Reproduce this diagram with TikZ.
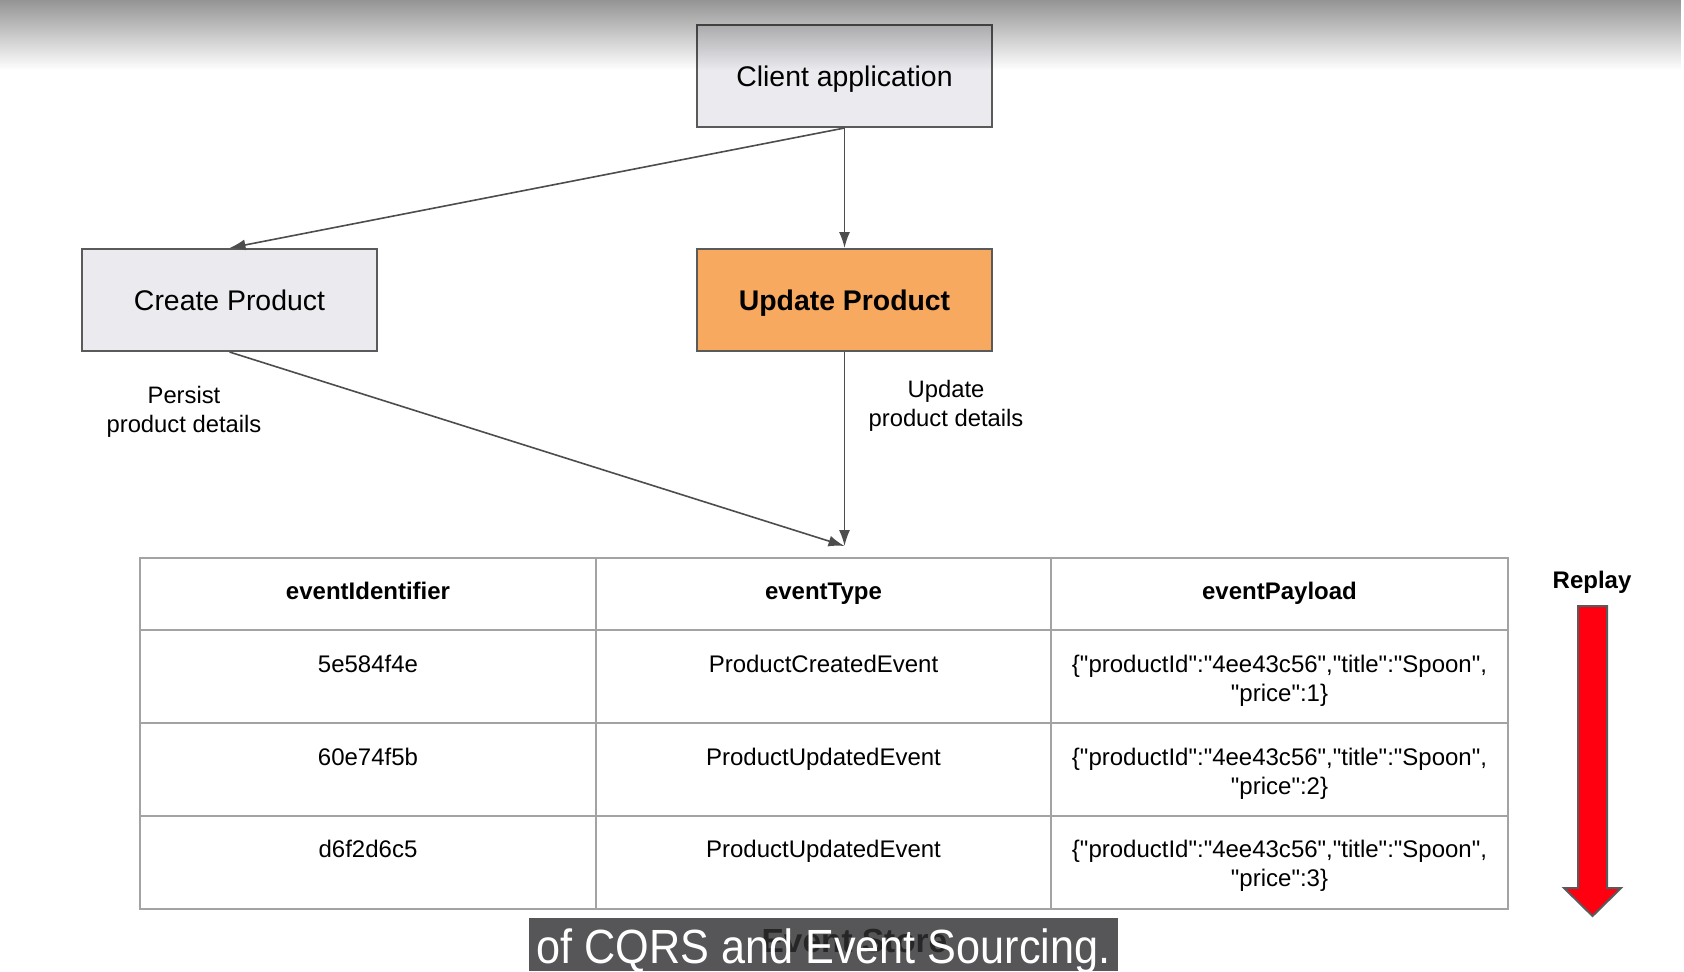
\documentclass[tikz,border=0pt]{standalone}
\usepackage{fontspec}
\setmainfont{Liberation Sans}[Ligatures=TeXOff]
\newfontfamily\capfont[FakeStretch=0.9]{Liberation Sans}
\usetikzlibrary{positioning,arrows.meta,fadings}
\definecolor{boxgray}{HTML}{EBEAEE}
\definecolor{boxline}{HTML}{5A5A5A}
\definecolor{updorange}{HTML}{F6A95F}
\definecolor{arrowgray}{HTML}{4D4D4D}
\definecolor{gridgray}{HTML}{A3A3A3}
\definecolor{replayred}{HTML}{FF0010}
\definecolor{capgray}{HTML}{565658}
\tikzset{
  procbox/.style={draw=boxline, line width=1pt, fill=boxgray, minimum width=147.5pt,
    minimum height=51pt, inner sep=0pt, text depth=0pt, font=\fontsize{14.2}{17}\selectfont},
  flow/.style={draw=arrowgray, line width=0.8pt, -{Latex[length=8pt,width=5.5pt]}},
  note/.style={align=center, font=\fontsize{11.9}{14.5}\selectfont},
  headcell/.style={font=\bfseries\fontsize{12}{14.5}\selectfont, text depth=0pt},
  datacell/.style={font=\fontsize{12}{14.5}\selectfont, text depth=0pt},
  paycell/.style={align=center, font=\fontsize{12}{14.5}\selectfont},
  tablegrid/.style={draw=gridgray, line width=1pt}
}
\begin{document}
\begin{tikzpicture}[x=0.5pt,y=-0.5pt]
\fill[white] (0,0) rectangle (1684,971);
\useasboundingbox (0,0) rectangle (1684,971);
% boxes
\node[procbox] (client) at (844.5,76) {Client application};
\node[procbox, fill=updorange, font=\bfseries\fontsize{14.2}{17}\selectfont, below=60pt of client] (update) {Update Product};
\node[procbox, left=159pt of update] (create) {Create Product};
\node[note] (persist) at (184,412) {Persist\\product details};
\node[note] (updnote) at (946,406) {Update\\product details};
\coordinate (store) at (844.5,546);
% connectors
\draw[flow] (client.south) -- (create.north);
\draw[flow] (client.south) -- (update.north);
\draw[flow] (create.south) -- (store);
\draw[flow] (update.south) -- (store);
% event store table
\draw[tablegrid] (140,558) rectangle (1508,909);
\foreach \x in {596,1051} \draw[tablegrid] (\x,558) -- (\x,909);
\foreach \y in {630,723,816} \draw[tablegrid] (140,\y) -- (1508,\y);
\node[headcell] (hid) at (368,591) {eventIdentifier};
\node[headcell] (htype) at (823.5,591) {eventType};
\node[headcell] (hpay) at (1279.5,591) {eventPayload};
\node[datacell] (ida) at (368,664) {5e584f4e};
\node[datacell] (typea) at (823.5,664) {ProductCreatedEvent};
\node[paycell] (paya) at (1279.5,681) {\{"productId":"4ee43c56","title":"Spoon",\\"price":1\}};
\node[datacell] (idb) at (368,757) {60e74f5b};
\node[datacell] (typeb) at (823.5,757) {ProductUpdatedEvent};
\node[paycell] (payb) at (1279.5,774) {\{"productId":"4ee43c56","title":"Spoon",\\"price":2\}};
\node[datacell] (idc) at (368,849) {d6f2d6c5};
\node[datacell] (typec) at (823.5,849) {ProductUpdatedEvent};
\node[paycell] (payc) at (1279.5,866) {\{"productId":"4ee43c56","title":"Spoon",\\"price":3\}};
% replay
\node[headcell] (replay) at (1592,580) {Replay};
\draw[fill=replayred, draw=boxline, line width=1pt, line join=miter]
  (1578,606) -- (1607,606) -- (1607,888) -- (1621,888) -- (1592.5,916)
  -- (1564,888) -- (1578,888) -- cycle;
% top shade
\fill[black, fill opacity=0.42, path fading=south] (0,0) rectangle (1684,70);
% caption
\fill[capgray] (529,918) rectangle (1118,971);
\node[anchor=base, text=black!85, font=\bfseries\fontsize{16.7}{18}\selectfont] (storetitle) at (854.5,952) {Event Store};
\node[anchor=base, text=white, font=\capfont\fontsize{24}{26}\selectfont] (caption) at (823.5,963) {of CQRS and Event Sourcing.};
\end{tikzpicture}
\end{document}
